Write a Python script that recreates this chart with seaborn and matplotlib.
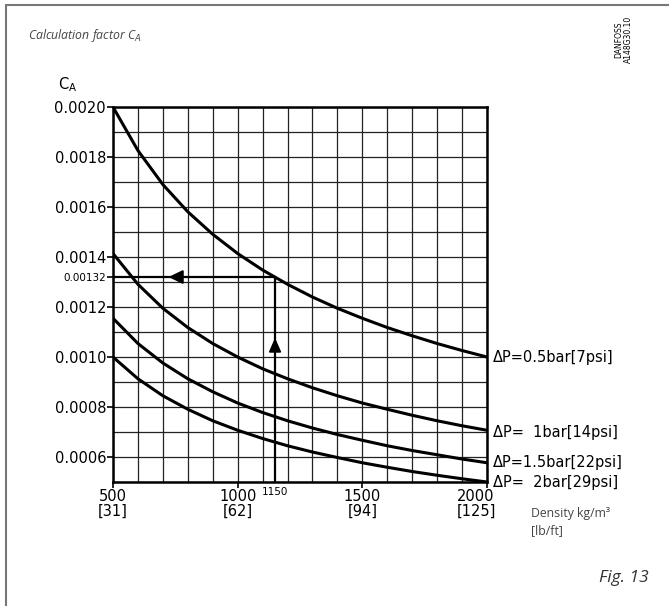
import numpy as np
import pandas as pd
import matplotlib
matplotlib.use("Agg")
import matplotlib.pyplot as plt
import matplotlib.transforms as mtransforms
from matplotlib.lines import Line2D
import seaborn as sns

# Density values (kg/m3) where curves were read
density = [500, 600, 700, 800, 900, 1000, 1100, 1200, 1300, 1400, 1500, 1600, 1700, 1800, 1900, 2000]

# Calculation factor C_A for each pressure drop
ca_05 = [0.002000, 0.001826, 0.001690, 0.001581, 0.001491, 0.001414, 0.001348, 0.001291,
         0.001240, 0.001195, 0.001155, 0.001118, 0.001085, 0.001054, 0.001026, 0.001000]
ca_10 = [0.001414, 0.001291, 0.001195, 0.001118, 0.001054, 0.001000, 0.000953, 0.000913,
         0.000877, 0.000845, 0.000816, 0.000791, 0.000767, 0.000745, 0.000725, 0.000707]
ca_15 = [0.001155, 0.001054, 0.000976, 0.000913, 0.000861, 0.000816, 0.000778, 0.000745,
         0.000716, 0.000690, 0.000667, 0.000645, 0.000626, 0.000609, 0.000592, 0.000577]
ca_20 = [0.001000, 0.000913, 0.000845, 0.000791, 0.000745, 0.000707, 0.000674, 0.000645,
         0.000620, 0.000598, 0.000577, 0.000559, 0.000542, 0.000527, 0.000513, 0.000500]

curve_labels = ["ΔP=0.5bar[7psi]", "ΔP=  1bar[14psi]", "ΔP=1.5bar[22psi]", "ΔP=  2bar[29psi]"]
label_y = [0.00100, 0.00070, 0.00058, 0.000499]

x_ticks = [500, 1000, 1500, 2000]
x_tick_labels = ["500\n[31]", "1000\n[62]", "1500\n[94]", "2000\n[125]"]
y_ticks = [0.0006, 0.0008, 0.0010, 0.0012, 0.0014, 0.0016, 0.0018, 0.0020]

# Example reading
ex_density = 1150
ex_ca = 0.00132

df = pd.DataFrame({
    "density": density * 4,
    "ca": ca_05 + ca_10 + ca_15 + ca_20,
    "dp": np.repeat(curve_labels, len(density)),
})

sns.set_style("white")
plt.rcParams["font.family"] = ["DejaVu Sans"]
plt.rcParams["text.color"] = "black"
plt.rcParams["xtick.color"] = "black"
plt.rcParams["ytick.color"] = "black"

fig = plt.figure(figsize=(6.69, 6.06), dpi=100)
ax = fig.add_axes([0.1689, 0.2046, 0.559, 0.6188])

# grid
for gx in range(500, 2001, 100):
    ax.axvline(gx, color="#222222", lw=0.9, zorder=1)
for gy in np.arange(0.0005, 0.00201, 0.0001):
    ax.axhline(gy, color="#222222", lw=0.9, zorder=1)

sns.lineplot(data=df, x="density", y="ca", hue="dp", palette=["black"] * 4,
             lw=2.2, legend=False, ax=ax, zorder=3)

# example reading lines with arrows
ax.plot([ex_density, ex_density, 500], [0.0005, ex_ca, ex_ca], color="black", lw=1.6, zorder=4)
ax.fill([ex_density - 22, ex_density + 22, ex_density], [0.00102, 0.00102, 0.00107],
        color="black", zorder=5)
ax.fill([781, 781, 729], [ex_ca - 0.000025, ex_ca + 0.000025, ex_ca],
        color="black", zorder=5)

ax.set_xlim(500, 2000)
ax.set_ylim(0.0005, 0.0020)
ax.set_xticks(x_ticks)
ax.set_xticklabels(x_tick_labels, fontsize=10.5, linespacing=0.95)
ax.set_yticks(y_ticks + [ex_ca])
ax.set_yticklabels([f"{v:.4f}" for v in y_ticks] + ["0.00132"], fontsize=10.5)
ax.get_yticklabels()[-1].set_fontsize(7.5)
ax.tick_params(axis="both", direction="out", length=4, width=1.2, color="black",
               left=True, bottom=True, pad=1)
ax.set_xlabel("")
ax.set_ylabel("")
for s in ax.spines.values():
    s.set_color("black")
    s.set_linewidth(1.8)

# last x label sits a little to the left of its tick
last = ax.get_xticklabels()[-1]
last.set_transform(last.get_transform() + mtransforms.ScaledTranslation(-0.11, 0, fig.dpi_scale_trans))

ax.text(1150, -0.012, "1150", transform=ax.get_xaxis_transform(), fontsize=7.5,
        ha="center", va="top")
ax.text(-0.12, 1.035, "C$_\\mathregular{A}$", transform=ax.transAxes, fontsize=10.5,
        ha="center", va="bottom")

for lab, yv in zip(curve_labels, label_y):
    ax.text(2025, yv, lab, fontsize=10.5, ha="left", va="center", clip_on=False)

fig.text(0.042, 0.942, "Calculation factor C$_A$", fontsize=8.8, style="italic",
         color="#444444", family="Open Sans", va="center")
fig.text(0.793, 0.139, "Density kg/m³\n[lb/ft]", fontsize=8.8, color="#444444",
         family="Open Sans", va="center", linespacing=1.4)
fig.text(0.97, 0.047, "Fig. 13", fontsize=12.5, style="italic", color="#333333",
         family="Open Sans", ha="right", va="center")
fig.text(0.932, 0.935, "DANFOSS\nA148G30.10", fontsize=5.5, rotation=90,
         ha="center", va="center", linespacing=1.0)

# frame of the figure panel
fig.add_artist(Line2D([0.009, 0.009], [0.0, 0.991], color="#777777", lw=1.5))
fig.add_artist(Line2D([0.009, 1.0], [0.991, 0.991], color="#777777", lw=1.5))

fig.savefig("out.png", dpi=100)
